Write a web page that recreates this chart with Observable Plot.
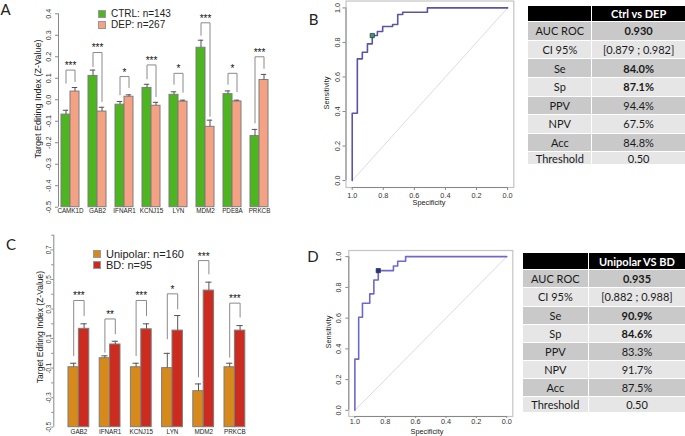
<!DOCTYPE html>
<html><head><meta charset="utf-8">
<script src="https://cdn.jsdelivr.net/npm/d3@7"></script>
<script src="https://cdn.jsdelivr.net/npm/@observablehq/plot@0.6"></script>
<style>
html,body{margin:0;padding:0;background:#fff;}
#fig{position:relative;width:685px;height:436px;overflow:hidden;font-family:"Liberation Sans",Arial,sans-serif;background:#fff;}
.t{position:absolute;white-space:nowrap;line-height:1;color:#222;}
.sq{position:absolute;width:8px;height:8px;box-sizing:border-box;border:1px solid #999;}
.cell{position:absolute;display:flex;align-items:center;justify-content:center;font-family:Lato,"Open Sans",sans-serif;font-size:11px;color:#1a1a1a;white-space:nowrap;}
</style></head><body><div id="fig"></div>
<script>
// ---------- Panel A data ----------
const genesA = ["CAMK1D","GAB2","IFNAR1","KCNJ15","LYN","MDM2","PDE8A","PRKCB"];
const ctrlMean = [-0.069, 0.111, -0.023, 0.055, 0.023, 0.242, 0.026, -0.169];
const ctrlSE   = [0.020, 0.027, 0.015, 0.017, 0.014, 0.035, 0.015, 0.031];
const depMean  = [0.038, -0.055, 0.014, -0.028, -0.009, -0.126, -0.008, 0.092];
const depSE    = [0.019, 0.020, 0.009, 0.016, 0.007, 0.031, 0.006, 0.026];
const sigA = ["***","***","*","***","*","***","*","***"];
const bracketTopA   = [0.138, 0.220, 0.108, 0.162, 0.123, 0.358, 0.123, 0.200];
const bracketLeftA  = [0.077, 0.154, 0.023, 0.097, 0.072, 0.300, 0.072, -0.108];
const bracketRightA = [0.085, -0.008, 0.057, 0.015, 0.035, -0.077, 0.038, 0.146];
const yTicksA = [-0.5,-0.4,-0.3,-0.2,-0.1,0,0.1,0.2,0.3,0.4];
const yLabelsA = yTicksA;
const legendA = ["CTRL: n=143","DEP: n=267"];

// ---------- Panel C data ----------
const genesC = ["GAB2","IFNAR1","KCNJ15","LYN","MDM2","PRKCB"];
const uniMean = [-0.094, -0.033, -0.094, -0.100, -0.256, -0.094];
const uniSE   = [0.027, 0.016, 0.027, 0.100, 0.049, 0.027];
const bdMean  = [0.166, 0.060, 0.163, 0.154, 0.425, 0.154];
const bdSE    = [0.034, 0.022, 0.037, 0.102, 0.057, 0.034];
const sigC = ["***","**","***","*","***","***"];
const bracketTopC   = [0.358, 0.233, 0.358, 0.403, 0.628, 0.340];
const bracketLeftC  = [-0.015, 0.008, -0.015, 0.098, -0.160, -0.026];
const bracketRightC = [0.256, 0.132, 0.256, 0.301, 0.538, 0.245];
const yTicksC = [-0.5,-0.4,-0.3,-0.2,-0.1,0,0.1,0.2,0.3,0.4,0.5,0.6,0.7,0.8];
const yLabelsC = [-0.5,-0.3,-0.1,0.1,0.3,0.5,0.7];
const legendC = ["Unipolar: n=160","BD: n=95"];

// ---------- ROC data ----------
const rocB_spec = [1, 1, 0.967, 0.935, 0.902, 0.871, 0.838, 0.804, 0.740, 0.707, 0.675, 0.516, 0];
const rocB_sens = [0, 0.390, 0.705, 0.743, 0.792, 0.840, 0.863, 0.892, 0.904, 0.962, 0.975, 1, 1];
const bestB_spec = 0.871, bestB_sens = 0.840;
const rocD_spec = [1, 1, 0.975, 0.950, 0.902, 0.875, 0.846, 0.746, 0.718, 0.666, 0];
const rocD_sens = [0, 0.333, 0.606, 0.697, 0.758, 0.848, 0.909, 0.939, 0.970, 1, 1];
const bestD_spec = 0.846, bestD_sens = 0.909;
const rocTicks = [0, 0.2, 0.4, 0.6, 0.8, 1];

// ---------- Table data ----------
const metricLabels = ["AUC ROC","CI 95%","Se","Sp","PPV","NPV","Acc","Threshold"];
const ctrlDepValues = ["0.930","[0.879 ; 0.982]","84.0%","87.1%","94.4%","67.5%","84.8%","0.50"];
const uniBdValues = ["0.935","[0.882 ; 0.988]","90.9%","84.6%","83.3%","91.7%","87.5%","0.50"];
const boldMetrics = ["AUC ROC","Se","Sp"];

// ---------- helpers ----------
const W = 685, H = 436;
const fig = document.getElementById("fig");
const svgStyle = {position:"absolute", left:"0px", top:"0px", background:"transparent", overflow:"visible", fontFamily:"'Liberation Sans', Arial, sans-serif", maxWidth:"none"};
function txt(x, y, s, size, o = {}) {
  const d = document.createElement("div");
  d.className = "t";
  d.textContent = s;
  d.style.left = x + "px"; d.style.top = y + "px";
  d.style.fontSize = size + "px";
  if (o.font) d.style.fontFamily = o.font;
  if (o.weight) d.style.fontWeight = o.weight;
  const ax = o.anchor === "start" ? "0" : "-50%";
  d.style.transform = `translate(${ax},-50%)` + (o.rotate ? ` rotate(${o.rotate}deg)` : "");
  if (o.rotate) d.style.transformOrigin = "center";
  fig.appendChild(d);
  return d;
}
function sq(x, y, color) {
  const d = document.createElement("div");
  d.className = "sq"; d.style.left = x + "px"; d.style.top = y + "px"; d.style.background = color;
  fig.appendChild(d);
}
const fmt1 = d => (Math.abs(d) < 1e-9 ? 0 : d).toFixed(1);

function barPanel(o) {
  const rows1 = o.genes.map((g, i) => ({i, x1: 3*i, x2: 3*i+1, m: o.m1[i], e: o.m1[i] + o.s1[i], c: 3*i+0.5}));
  const rows2 = o.genes.map((g, i) => ({i, x1: 3*i+1, x2: 3*i+2, m: o.m2[i], e: o.m2[i] + o.s2[i], c: 3*i+1.5}));
  const all = rows1.concat(rows2);
  const br = [];
  o.genes.forEach((g, i) => {
    br.push({i, x: 3*i+0.5, y: o.legL[i]}, {i, x: 3*i+0.5, y: o.top[i]},
            {i, x: 3*i+1.5, y: o.top[i]}, {i, x: 3*i+1.5, y: o.legR[i]});
  });
  const stars = o.genes.map((g, i) => ({x: 3*i+1, y: o.top[i], s: o.sig[i]}));
  const base = o.yTicks[0], topT = o.yTicks[o.yTicks.length-1];
  const labelSet = new Set(o.yLabels.map(fmt1));
  return Plot.plot({
    width: W, height: H,
    marginLeft: o.ml, marginRight: o.mr, marginTop: o.mt, marginBottom: o.mb,
    x: {domain: o.xDomain}, y: {domain: [base, topT]},
    style: svgStyle,
    marks: [
      Plot.rectY(rows1, {x1: "x1", x2: "x2", y1: base, y2: "m", fill: o.colors[0], stroke: "#7d7d7d", strokeWidth: 1}),
      Plot.rectY(rows2, {x1: "x1", x2: "x2", y1: base, y2: "m", fill: o.colors[1], stroke: "#7d7d7d", strokeWidth: 1}),
      Plot.ruleX(all, {x: "c", y1: "m", y2: "e", stroke: "#555", strokeWidth: 1}),
      Plot.ruleY(all, {y: "e", x1: d => d.c - 0.3, x2: d => d.c + 0.3, stroke: "#555", strokeWidth: 1}),
      Plot.line(br, {x: "x", y: "y", z: "i", stroke: "#8a8a8a", strokeWidth: 1}),
      Plot.text(stars, {x: "x", y: "y", text: "s", fontSize: o.starSize, lineAnchor: "bottom", dy: -1, fill: "#111"}),
      Plot.ruleX([o.xDomain[0]], {y1: base, y2: topT, stroke: "#888"}),
      Plot.axisY(o.yTicks, {tickRotate: -90, tickSize: o.yts, tickPadding: o.ytp, fontSize: o.yfs, stroke: "#888", fill: "#333",
        tickFormat: d => labelSet.has(fmt1(d)) ? fmt1(d) : "", label: null}),
      Plot.axisX(o.genes.map((g, i) => 3*i+1), {tickSize: 0, tickPadding: o.xtp, fontSize: o.xfs, fill: "#222",
        tickFormat: d => o.genes[Math.round((d-1)/3)], label: null})
    ]
  });
}

function rocPanel(o) {
  const pts = o.spec.map((s, i) => ({s, v: o.sens[i]}));
  return Plot.plot({
    width: W, height: H,
    marginLeft: o.ml, marginRight: o.mr, marginTop: o.mt, marginBottom: o.mb,
    x: {domain: [1.04, -0.04]}, y: {domain: [-0.04, 1.04]},
    style: svgStyle,
    marks: [
      Plot.frame({stroke: "#c4c4c4", strokeWidth: 1.2}),
      Plot.line([{s: 1, v: 0}, {s: 0, v: 1}], {x: "s", y: "v", stroke: "#dcdcdc", strokeWidth: 1}),
      Plot.line(pts, {x: "s", y: "v", curve: "step-after", stroke: o.color, strokeWidth: 1.6}),
      Plot.dot([{s: o.bs, v: o.bv}], {x: "s", y: "v", symbol: "square", r: 2.4, fill: o.dot, stroke: "#2a2a4a", strokeWidth: 0.7}),
      Plot.ruleY([-0.04], {x1: 1, x2: 0, stroke: "#888"}),
      Plot.ruleX([1.04], {y1: 0, y2: 1, stroke: "#888"}),
      Plot.axisX(rocTicks, {tickSize: o.xts, tickPadding: o.xtp, fontSize: 7.3, stroke: "#888", fill: "#333", tickFormat: fmt1, label: null}),
      Plot.axisY(rocTicks, {tickRotate: -90, tickSize: 3, tickPadding: o.ytp, fontSize: 7.3, stroke: "#888", fill: "#333", tickFormat: fmt1, label: null})
    ]
  });
}

function table(o) {
  const mk = (x, y, w, h, bg, text, color, weight) => {
    const d = document.createElement("div");
    d.className = "cell";
    d.style.left = x + "px"; d.style.top = y + "px";
    d.style.width = (w - 1) + "px"; d.style.height = (h - 1) + "px";
    d.style.background = bg; d.style.color = color;
    if (weight) d.style.fontWeight = weight;
    d.textContent = text;
    fig.appendChild(d);
  };
  const e = o.edges;
  mk(o.left, e[0], o.div - o.left, e[1] - e[0], "#000", "", "#fff");
  mk(o.div, e[0], o.right - o.div, e[1] - e[0], "#000", o.header, "#fff", "700");
  metricLabels.forEach((lab, r) => {
    const bg = r % 2 === 0 ? "#c9c9c9" : "#e6e6e6";
    const y0 = e[r+1], h = e[r+2] - e[r+1];
    mk(o.left, y0, o.div - o.left, h, bg, lab, "#1a1a1a");
    mk(o.div, y0, o.right - o.div, h, bg, o.values[r], "#1a1a1a", boldMetrics.includes(lab) ? "700" : null);
  });
}

// ---------- draw ----------
fig.appendChild(barPanel({
  genes: genesA, m1: ctrlMean, s1: ctrlSE, m2: depMean, s2: depSE, sig: sigA,
  top: bracketTopA, legL: bracketLeftA, legR: bracketRightA, yTicks: yTicksA, yLabels: yLabelsA,
  colors: ["#4cb51f", "#f4a283"], xDomain: [-1/3, 23],
  ml: 58, mr: 417, mt: 13.3, mb: H - 206.7, ytp: 4.5, yts: 3, yfs: 7.2, xtp: 1.5, xfs: 6.3, starSize: 10
}));
fig.appendChild(barPanel({
  genes: genesC, m1: uniMean, s1: uniSE, m2: bdMean, s2: bdSE, sig: sigC,
  top: bracketTopC, legL: bracketLeftC, legR: bracketRightC, yTicks: yTicksC, yLabels: yLabelsC,
  colors: ["#d68a1c", "#cc2b1f"], xDomain: [-1.413, 17],
  ml: 53.3, mr: W - 53.3 - 191.5, mt: 234.7, mb: H - 426.7, ytp: 0.5, yts: 2, yfs: 6.3, xtp: 2, xfs: 6.3, starSize: 10
}));
fig.appendChild(rocPanel({
  spec: rocB_spec, sens: rocB_sens, bs: bestB_spec, bv: bestB_sens,
  color: "#5a54a8", dot: "#3c9a6a",
  ml: 345.5, mr: W - 513.3, mt: 0.5, mb: H - 187, xts: 3, xtp: 2, ytp: 3
}));
fig.appendChild(rocPanel({
  spec: rocD_spec, sens: rocD_sens, bs: bestD_spec, bv: bestD_sens,
  color: "#7068c8", dot: "#22387a",
  ml: 348.3, mr: W - 512.3, mt: 250, mb: H - 416, xts: 2, xtp: 0.5, ytp: 4.5
}));

// titles and legends
txt(37.5, 99, "Target Editing Index (Z-Value)", 9, {rotate: -90});
txt(40, 327, "Target Editing Index (Z-Value)", 8.5, {rotate: -90});
sq(97.7, 9.7, "#4cb51f"); sq(97.7, 20.5, "#f4a283");
txt(111, 13.5, legendA[0], 10, {anchor: "start"});
txt(111, 24.5, legendA[1], 10, {anchor: "start"});
sq(92.7, 249.5, "#d68a1c"); sq(92.7, 260.5, "#cc2b1f");
txt(106, 253.5, legendC[0], 11, {anchor: "start"});
txt(106, 264.5, legendC[1], 11, {anchor: "start"});
txt(327, 93, "Sensitivity", 7.3, {rotate: -90});
txt(429, 203, "Specificity", 7.3);
txt(329, 332, "Sensitivity", 7.3, {rotate: -90});
txt(427, 431.5, "Specificity", 7.3);

// panel letters
const lf = "Lato, 'Open Sans', sans-serif";
txt(5.5, 8.5, "A", 15, {font: lf});
txt(313.5, 18.5, "B", 15, {font: lf});
txt(11, 244, "C", 15, {font: lf});
txt(313, 255.5, "D", 15, {font: lf});

// tables
table({left: 528.3, div: 592.3, right: 686, header: "Ctrl vs DEP", values: ctrlDepValues,
  edges: [6, 21.7, 40.7, 59.3, 78, 96.5, 115, 133.5, 152, 165]});
table({left: 522.7, div: 589, right: 686, header: "Unipolar VS BD", values: uniBdValues,
  edges: [253.3, 270, 288.3, 306.7, 325, 343.3, 361, 379, 396.7, 413.3]});
</script></body></html>
